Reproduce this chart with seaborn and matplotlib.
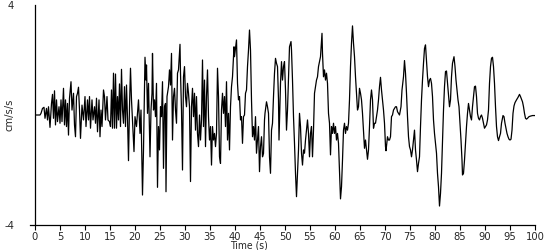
import matplotlib
matplotlib.use("Agg")
import matplotlib.pyplot as plt
import seaborn as sns
import pandas as pd

# time (s)
time_s = [
    0.0, 1.0, 1.2, 1.5, 1.8, 2.0, 2.3, 2.5, 2.7, 3.0, 3.3, 3.5, 3.7, 3.9, 4.1, 4.3, 4.5, 4.8,
    5.0, 5.2, 5.4, 5.7, 5.9, 6.1, 6.3, 6.5, 6.7, 6.9, 7.2, 7.4, 7.7, 7.9, 8.1, 8.3, 8.5, 8.7,
    8.9, 9.1, 9.4, 9.7, 10.0, 10.2, 10.5, 10.7, 10.9, 11.1, 11.4, 11.6, 11.9, 12.1, 12.3, 12.5,
    12.8, 13.0, 13.2, 13.4, 13.7, 13.9, 14.1, 14.4, 14.6, 14.9, 15.1, 15.3, 15.5, 15.7, 15.9,
    16.1, 16.3, 16.5, 16.7, 16.9, 17.1, 17.3, 17.5, 17.7, 17.9, 18.1, 18.3, 18.5, 18.7, 18.9,
    19.1, 19.3, 19.5, 19.8, 20.0, 20.3, 20.7, 21.0, 21.2, 21.5, 21.7, 22.0, 22.2, 22.3, 22.5,
    22.7, 23.0, 23.2, 23.4, 23.5, 23.7, 23.9, 24.1, 24.3, 24.5, 24.7, 24.9, 25.1, 25.3, 25.5,
    25.7, 25.9, 26.1, 26.2, 26.4, 26.7, 26.9, 27.1, 27.3, 27.5, 27.7, 27.9, 28.1, 28.3, 28.5,
    28.7, 29.0, 29.1, 29.3, 29.5, 29.7, 29.9, 30.1, 30.3, 30.5, 30.7, 30.9, 31.1, 31.3, 31.5,
    31.7, 31.9, 32.1, 32.3, 32.5, 32.7, 32.9, 33.1, 33.3, 33.5, 33.7, 33.9, 34.1, 34.3, 34.5,
    34.7, 34.9, 35.1, 35.3, 35.5, 35.7, 35.9, 36.1, 36.3, 36.5, 36.7, 36.9, 37.1, 37.3, 37.5,
    37.7, 37.9, 38.1, 38.3, 38.5, 38.7, 38.9, 39.1, 39.3, 39.5, 39.8, 39.9, 40.1, 40.3, 40.5,
    40.7, 40.9, 41.1, 41.3, 41.5, 41.7, 41.9, 42.1, 42.3, 42.5, 42.7, 42.9, 43.1, 43.3, 43.5,
    43.7, 43.9, 44.1, 44.3, 44.5, 44.7, 44.9, 45.1, 45.3, 45.5, 45.7, 45.9, 46.0, 46.3, 46.5,
    46.7, 46.9, 47.1, 47.3, 47.5, 47.7, 47.9, 48.1, 48.3, 48.5, 48.7, 48.8, 49.0, 49.1, 49.3,
    49.5, 49.7, 49.9, 50.1, 50.3, 50.5, 50.7, 50.9, 51.2, 51.3, 51.5, 51.7, 51.9, 52.1, 52.3,
    52.5, 52.7, 52.9, 53.1, 53.3, 53.5, 53.7, 53.9, 54.1, 54.3, 54.5, 54.7, 54.9, 55.1, 55.3,
    55.5, 55.7, 55.9, 56.1, 56.3, 56.5, 56.7, 56.9, 57.1, 57.4, 57.5, 57.7, 57.9, 58.1, 58.3,
    58.5, 58.7, 58.9, 59.1, 59.3, 59.5, 59.7, 59.9, 60.1, 60.3, 60.5, 60.7, 60.9, 61.1, 61.3,
    61.5, 61.7, 61.9, 62.1, 62.3, 62.5, 62.7, 62.9, 63.1, 63.3, 63.5, 63.7, 63.9, 64.1, 64.3,
    64.5, 64.7, 64.9, 65.1, 65.3, 65.5, 65.7, 65.9, 66.1, 66.3, 66.5, 66.7, 66.9, 67.1, 67.3,
    67.5, 67.7, 67.9, 68.1, 68.3, 68.5, 68.7, 68.9, 69.1, 69.3, 69.5, 69.7, 69.9, 70.1, 70.2,
    70.5, 70.7, 70.9, 71.1, 71.3, 71.5, 71.7, 71.9, 72.1, 72.3, 72.5, 72.7, 72.9, 73.2, 73.4,
    73.7, 73.9, 74.1, 74.3, 74.5, 74.7, 74.9, 75.1, 75.3, 75.5, 75.7, 75.9, 76.1, 76.3, 76.5,
    76.7, 76.9, 77.1, 77.3, 77.5, 77.7, 77.9, 78.1, 78.3, 78.5, 78.7, 78.9, 79.1, 79.3, 79.5,
    79.7, 79.9, 80.1, 80.3, 80.5, 80.7, 80.9, 81.1, 81.3, 81.5, 81.7, 81.9, 82.1, 82.3, 82.5,
    82.7, 82.9, 83.1, 83.3, 83.5, 83.8, 84.0, 84.2, 84.4, 84.6, 84.8, 85.0, 85.2, 85.4, 85.5,
    85.7, 85.9, 86.1, 86.3, 86.5, 86.7, 86.9, 87.1, 87.3, 87.5, 87.7, 87.9, 88.1, 88.3, 88.5,
    88.7, 88.9, 89.1, 89.3, 89.5, 89.7, 89.9, 90.1, 90.3, 90.5, 90.7, 90.9, 91.1, 91.3, 91.5,
    91.7, 91.9, 92.1, 92.3, 92.5, 92.7, 92.9, 93.1, 93.3, 93.6, 93.8, 94.0, 94.2, 94.4, 94.6,
    94.8, 95.0, 95.2, 95.4, 95.6, 95.8, 96.0, 96.3, 96.6, 96.9, 97.1, 97.3, 97.5, 97.7, 97.9,
    98.1, 98.3, 98.5, 98.8, 99.1, 99.5, 100.0,
]

# acceleration (cm/s/s)
accel = [
    0.0, 0.0, 0.06, 0.24, 0.28, -0.12, 0.24, -0.18, 0.30, -0.45, 0.42, 0.75, -0.12, 0.88, -0.36,
    0.55, -0.24, 0.30, -0.30, 0.55, -0.24, 0.97, -0.36, 0.55, -0.42, 0.42, -0.73, 0.61, 1.21,
    0.18, 0.79, -0.36, -0.79, 0.67, 0.79, 1.01, 0.18, -0.85, 0.36, -0.18, 0.67, -0.42, 0.55,
    -0.18, 0.67, -0.48, 0.55, -0.18, 0.30, -0.30, 0.61, -0.61, 0.55, -0.79, 0.18, -0.42, 0.91,
    0.67, -0.18, 0.67, -0.18, -0.24, -0.42, 0.91, -0.48, 1.52, -0.48, 1.49, -0.48, 0.67, -0.18,
    1.13, -0.42, 1.66, 0.18, -0.30, 1.03, -0.42, 1.09, -0.12, -1.66, 0.30, 1.70, 0.55, -0.18,
    -1.33, -0.06, -0.42, 0.55, -0.67, 0.18, -2.91, -1.27, 2.10, 1.27, 1.82, 0.06, 1.15, -1.52,
    0.18, 0.79, 2.24, 0.18, 0.55, -0.06, 1.15, -2.63, -0.42, -1.27, 0.30, -0.06, 1.21, -1.94,
    0.30, 0.42, -2.79, 0.67, 1.03, 1.64, 1.09, 2.24, -0.91, 0.67, 0.97, 0.18, -0.30, 1.52, 1.64,
    2.57, 1.52, 0.18, -2.00, 1.39, 1.76, 0.67, 0.30, 1.15, 0.79, 0.30, -2.42, 0.30, 0.97, -0.06,
    0.79, -0.55, 0.67, -0.67, -1.15, 0.00, -0.91, -0.18, 2.00, -0.42, 1.27, -1.15, 0.67, 1.64,
    -0.06, -0.91, -0.42, -1.82, -0.42, -0.91, -0.67, -1.15, -0.67, 1.70, 0.67, -1.52, -1.76,
    0.18, 0.79, 0.06, 0.67, -0.42, 1.21, -0.91, 0.06, -1.27, 0.30, 1.03, 1.39, 2.48, 2.12, 2.42,
    2.73, 1.15, 0.55, 0.67, -0.18, -0.06, -1.03, -0.06, 0.00, 0.79, 0.91, 1.76, 2.36, 3.09,
    2.36, 0.55, -0.79, -0.42, -0.91, -0.06, -1.39, -0.91, -0.42, -2.06, -1.15, -0.79, -1.52,
    -1.40, -0.18, 0.06, 0.48, 0.30, 0.06, -1.52, -2.12, -0.55, -0.30, 0.67, 1.52, 2.06, 1.88,
    1.76, 0.55, -0.91, 0.55, 1.15, 1.94, 1.27, 1.76, 1.94, 0.91, -0.55, 0.18, 1.39, 2.48, 2.67,
    2.36, 1.27, -0.06, -1.03, -2.12, -2.97, -2.12, -1.27, 0.06, -0.42, -1.39, -1.82, -1.27,
    -1.39, -0.91, -0.55, -0.18, -0.67, -1.52, -0.67, -0.42, -1.52, -0.55, 0.79, 1.03, 1.27,
    1.39, 1.76, 1.94, 2.12, 2.97, 2.24, 1.39, 1.64, 1.27, 1.52, 1.15, 0.06, -0.30, -1.45, -0.42,
    -0.67, -0.30, -0.67, -0.42, -0.91, -0.67, -1.03, -2.00, -3.05, -2.61, -1.64, -0.55, -0.30,
    -0.67, -0.42, -0.55, -0.30, 0.55, 1.76, 2.61, 3.24, 2.61, 2.12, 1.39, 0.79, 0.18, 0.30,
    0.97, 0.79, 0.55, 0.06, -0.55, -1.21, -0.91, -1.27, -1.61, -1.27, -0.42, 0.55, 0.91, 0.55,
    -0.48, -0.30, -0.30, -0.06, 0.18, 0.55, 1.03, 1.37, 0.91, 0.55, 0.18, -0.30, -1.15, -1.30,
    -0.79, -0.91, -0.91, -0.79, -0.06, 0.00, 0.18, 0.24, 0.30, 0.30, 0.12, 0.06, 0.00, 0.30,
    0.91, 1.39, 1.98, 1.52, 0.79, -0.06, -0.79, -1.15, -1.27, -1.52, -1.27, -0.91, -0.55, -1.27,
    -1.64, -2.06, -1.76, -1.52, -0.42, 0.55, 1.27, 1.88, 2.42, 2.55, 2.00, 1.39, 1.03, 1.27,
    1.33, 1.15, 0.67, -0.18, -0.67, -1.03, -1.39, -2.12, -2.61, -3.31, -2.85, -2.12, -0.91,
    0.18, 1.03, 1.58, 1.60, 1.15, 0.67, 0.30, 0.55, 1.39, 1.88, 2.12, 1.76, 1.27, 0.91, 0.55,
    0.30, -0.30, -0.91, -1.64, -2.18, -2.12, -1.64, -1.03, -0.42, 0.06, 0.42, 0.18, -0.06, -0.18,
    0.30, 0.67, 1.03, 1.05, 0.67, 0.06, -0.12, -0.18, -0.06, 0.00, -0.12, -0.30, -0.48, -0.42,
    -0.36, -0.18, 0.18, 1.15, 1.76, 2.06, 2.10, 1.76, 1.15, 0.30, -0.42, -0.79, -0.93, -0.79,
    -0.67, -0.30, -0.02, -0.06, -0.30, -0.48, -0.67, -0.79, -0.88, -0.91, -0.88, -0.55, 0.06,
    0.33, 0.45, 0.55, 0.64, 0.75, 0.67, 0.57, 0.48, 0.30, 0.06, -0.12, -0.15, -0.12, -0.06,
    -0.04, -0.02, -0.02,
]

x_ticks = list(range(0, 101, 5))
y_ticks = [-4, 4]
y_tick_labels = ["-4", "4"]
x_label = "Time (s)"
y_label = "cm/s/s"

sns.set_style("white")
plt.rcParams["font.family"] = ["DejaVu Sans"]
plt.rcParams["font.stretch"] = "condensed"

df = pd.DataFrame({"t": time_s, "a": accel})

fig = plt.figure(figsize=(5.5, 2.5), dpi=100)
ax = fig.add_axes([35 / 550, 25 / 250, 500 / 550, 220 / 250])

sns.lineplot(data=df, x="t", y="a", ax=ax, color="black", linewidth=0.9,
             sort=False, estimator=None)

ax.set_xlim(0, 100)
ax.set_ylim(-4, 4)
for s in ["top", "right"]:
    ax.spines[s].set_visible(False)
for s in ["left", "bottom"]:
    ax.spines[s].set_color("black")
    ax.spines[s].set_linewidth(0.9)
ax.spines["bottom"].set_bounds(-1, 100)

ax.set_xticks(x_ticks)
ax.set_xticklabels([str(v) for v in x_ticks])
ax.set_yticks(y_ticks)
ax.set_yticklabels(y_tick_labels)
ax.tick_params(axis="x", direction="out", length=3.5, width=0.8, color="black",
               labelsize=8, pad=1.5, bottom=True)
ax.tick_params(axis="y", length=0, labelsize=8, pad=15, left=True)

ax.set_xlabel(x_label, fontsize=7.5)
ax.set_ylabel(y_label, fontsize=8)
ax.xaxis.set_label_coords((249 - 35) / 500, -15.5 / 220)
ax.yaxis.set_label_coords(-20 / 500, 0.5)

fig.savefig("out.png", dpi=100, facecolor="white")
